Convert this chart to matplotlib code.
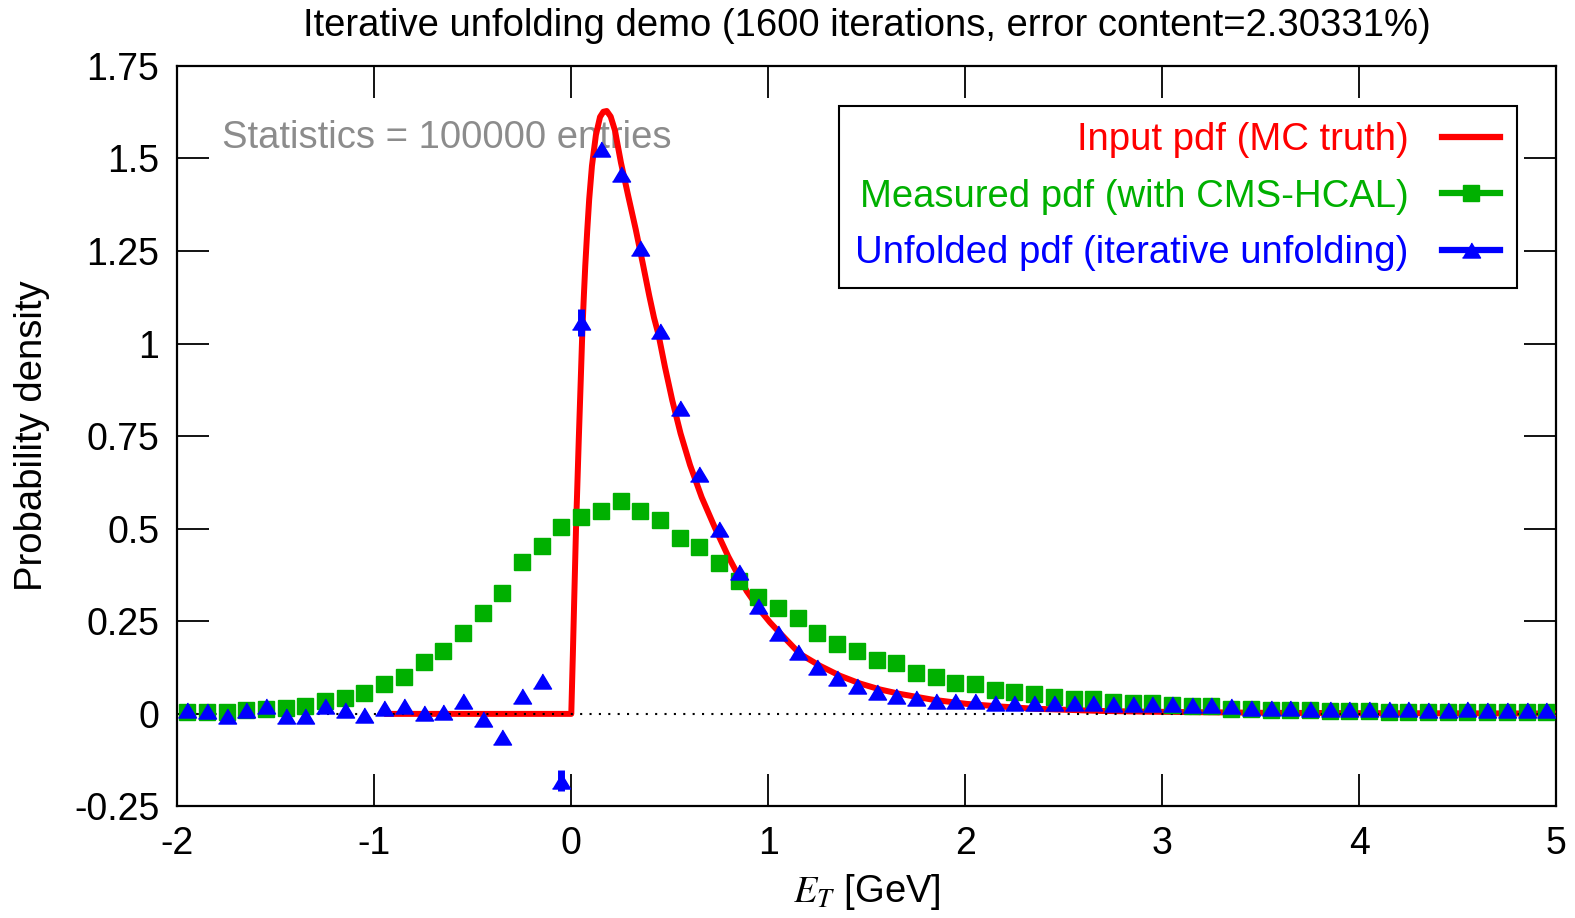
import matplotlib
matplotlib.use("Agg")
import matplotlib.pyplot as plt
from matplotlib.lines import Line2D
import numpy as np

plt.rcParams['font.family'] = ['Liberation Sans', 'DejaVu Sans']
plt.rcParams['mathtext.fontset'] = 'stix'

# bin centres, 0.1 GeV bins from -2 to 5
bins = np.arange(-1.95, 5.0, 0.1)

measured = [0.005, 0.006, 0.005, 0.011, 0.013, 0.017, 0.020, 0.034, 0.044, 0.057,
            0.082, 0.100, 0.141, 0.171, 0.219, 0.273, 0.327, 0.410, 0.454, 0.505,
            0.532, 0.548, 0.575, 0.548, 0.523, 0.475, 0.451, 0.408, 0.358, 0.316,
            0.287, 0.260, 0.219, 0.189, 0.170, 0.146, 0.138, 0.111, 0.100, 0.084,
            0.081, 0.065, 0.059, 0.054, 0.045, 0.040, 0.040, 0.031, 0.029, 0.029,
            0.023, 0.020, 0.020, 0.014, 0.013, 0.011, 0.011, 0.011, 0.009, 0.009,
            0.009, 0.006, 0.006, 0.004, 0.004, 0.006, 0.004, 0.004, 0.004, 0.004]

unfolded = [0.011, 0.008, -0.005, 0.011, 0.020, -0.005, -0.005, 0.022, 0.011, -0.004,
            0.017, 0.022, 0.002, 0.006, 0.036, -0.014, -0.063, 0.047, 0.089, -0.180,
            1.057, 1.525, 1.457, 1.258, 1.035, 0.827, 0.649, 0.500, 0.382, 0.291,
            0.219, 0.166, 0.126, 0.096, 0.075, 0.060, 0.049, 0.042, 0.036, 0.035,
            0.034, 0.030, 0.030, 0.030, 0.029, 0.029, 0.029, 0.027, 0.027, 0.027,
            0.026, 0.025, 0.025, 0.020, 0.015, 0.015, 0.015, 0.014, 0.013, 0.013,
            0.013, 0.012, 0.012, 0.011, 0.011, 0.012, 0.011, 0.011, 0.011, 0.011]

unf_err = [0.0] * 19 + [0.028, 0.036] + [0.0] * 49

# MC truth curve
truth_x = [-0.95, 0.0, 0.008, 0.015, 0.024, 0.038, 0.048, 0.056, 0.064, 0.071,
           0.081, 0.091, 0.105, 0.125, 0.146, 0.163, 0.18, 0.2, 0.222, 0.252,
           0.289, 0.327, 0.362, 0.396, 0.42, 0.442, 0.476, 0.513, 0.555, 0.603,
           0.662, 0.729, 0.797, 0.89, 0.958, 1.009, 1.06, 1.161, 1.262, 1.364,
           1.466, 1.567, 1.668, 1.838, 2.007, 2.176, 2.346, 2.515, 2.683, 2.92,
           3.5, 4.0, 4.5, 5.0]
truth_y = [0.0, 0.0, 0.16, 0.31, 0.50, 0.74, 0.90, 1.03, 1.13, 1.21,
           1.305, 1.39, 1.48, 1.563, 1.612, 1.626, 1.628, 1.613, 1.575, 1.489,
           1.399, 1.309, 1.219, 1.129, 1.07, 1.026, 0.936, 0.846, 0.757, 0.672,
           0.585, 0.503, 0.425, 0.332, 0.280, 0.247, 0.218, 0.162, 0.130, 0.103,
           0.082, 0.066, 0.054, 0.038, 0.027, 0.020, 0.014, 0.011, 0.008, 0.006,
           0.003, 0.002, 0.0015, 0.001]

red = '#ff0000'
green = '#00b000'
blue = '#0000ff'
tri = [(-1.2, -1), (1.2, -1), (0, 1)]
fs = 27.5

fig = plt.figure(figsize=(15.75, 9.18), dpi=100)
ax = fig.add_axes([0.1126, 0.1215, 0.8754, 0.8068])

ax.text(-1.773, 1.555, 'Statistics = 100000 entries', color='#8c8c8c',
        fontsize=fs, va='center', ha='left', zorder=1)

ax.plot(truth_x, truth_y, color=red, lw=4.3, zorder=3, solid_capstyle='butt')
ax.plot([-2, 5], [0, 0], color='black', lw=1.5, ls=(0, (1, 3.5)), zorder=4)
ax.plot(bins, measured, ls='none', marker='s', ms=11.5, color=green,
        mec=green, zorder=5)
ax.errorbar(bins, unfolded, yerr=unf_err, fmt='none', ecolor=blue,
            elinewidth=5, capsize=0, zorder=6)
ax.plot(bins, unfolded, ls='none', marker=tri, ms=13, color=blue,
        mec=blue, zorder=7)

ax.set_xlim(-2, 5)
ax.set_ylim(-0.25, 1.75)
ax.set_xticks(range(-2, 6))
ax.set_xticklabels([str(v) for v in range(-2, 6)])
yt = [-0.25, 0, 0.25, 0.5, 0.75, 1, 1.25, 1.5, 1.75]
ax.set_yticks(yt)
ax.set_yticklabels(['-0.25', '0', '0.25', '0.5', '0.75', '1', '1.25', '1.5', '1.75'])
ax.tick_params(direction='in', length=23, width=1.3, top=True, right=True,
               labelsize=27, pad=13)
ax.tick_params(axis='x', pad=14)
for s in ax.spines.values():
    s.set_linewidth(1.6)

ax.set_xlabel(r'$E_T$ [GeV]', fontsize=fs, labelpad=7)
ax.set_ylabel('Probability density', fontsize=fs, labelpad=17)
ax.set_title('Iterative unfolding demo (1600 iterations, error content=2.30331%)',
             fontsize=fs, pad=21.5)

handles = [Line2D([], [], color=red, lw=4.5),
           Line2D([], [], color=green, lw=4.5, marker='s', ms=11),
           Line2D([], [], color=blue, lw=4.5, marker=tri, ms=13)]
labels = ['Input pdf (MC truth)', 'Measured pdf (with CMS-HCAL)',
          'Unfolded pdf (iterative unfolding)']
leg = ax.legend(handles, labels, loc='upper right', bbox_to_anchor=(0.9715, 0.9464),
                fontsize=fs, markerfirst=False, alignment='right',
                labelcolor=[red, green, blue], fancybox=False, framealpha=1,
                edgecolor='black', handlelength=1.52, handletextpad=0.88,
                labelspacing=0.54, borderpad=0.43, borderaxespad=0)
leg.get_frame().set_linewidth(1.5)
leg.set_zorder(10)

fig.savefig('out.png', dpi=100)
